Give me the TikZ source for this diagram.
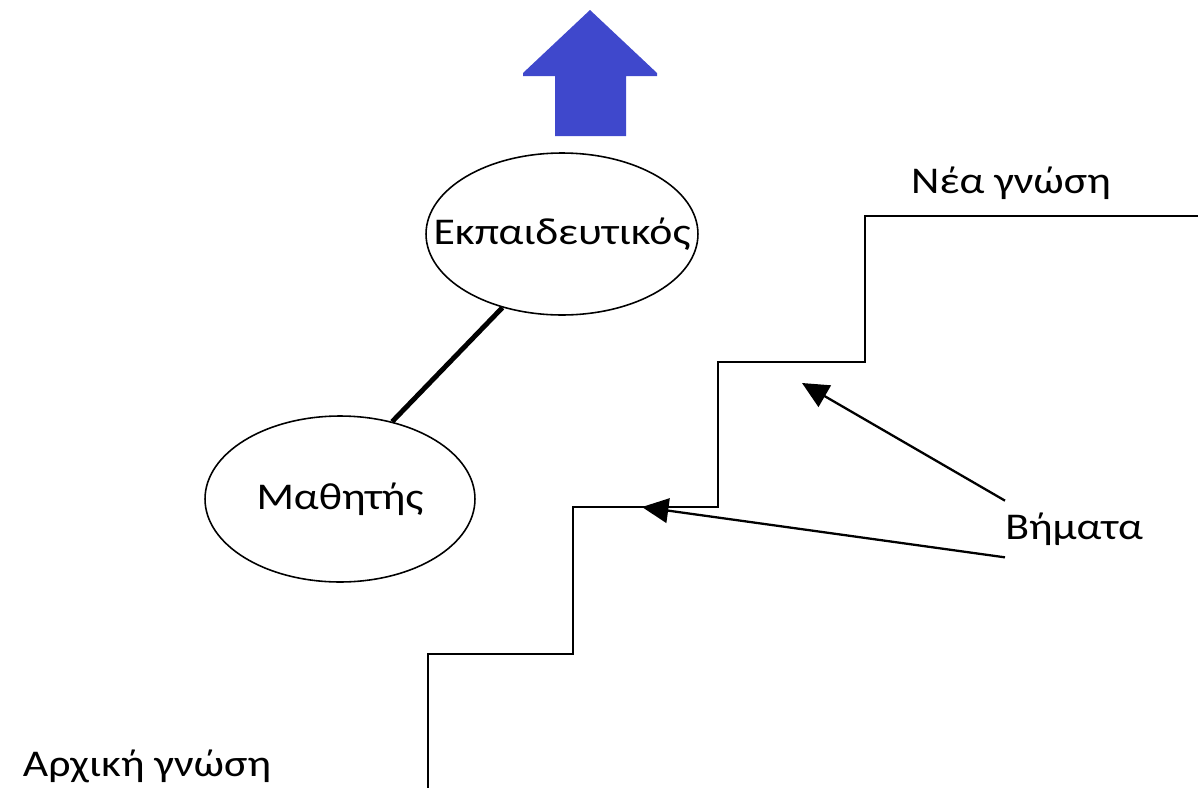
\documentclass[tikz,border=0pt]{standalone}
\usepackage{fontspec}
\setmainfont{Carlito}[FakeStretch=1.16]
\usetikzlibrary{shapes,arrows.meta,positioning}
\definecolor{paintblue}{RGB}{63,72,204}
\tikzstyle{role} = [ellipse, draw, line width=0.9pt, inner sep=0pt, font=\fontsize{21.5}{25}\selectfont]
\tikzstyle{caption} = [inner sep=0pt, font=\fontsize{21.5}{25}\selectfont]
\tikzstyle{stairs} = [line width=1.7pt, line join=miter]
\tikzstyle{pointer} = [-{Triangle[length=15pt, width=14pt]}, line width=1.3pt]

\begin{document}
\begin{tikzpicture}[x=0.02cm, y=-0.02cm]
\useasboundingbox (0,0) rectangle (1198,788);

% Blue arrow on top
\fill[paintblue] (590,10) -- (657,73) -- (657,76) -- (626,76) -- (626,136)
  -- (555,136) -- (555,76) -- (523,76) -- (523,73) -- cycle;

% Teacher and pupil
\node[role, minimum width=5.44cm, minimum height=3.24cm] (teacher) at (562,234) {\makebox[0pt]{Εκπαιδευτικός}};
\node[role, minimum width=5.4cm, minimum height=3.32cm] (pupil) at (340,499) {\makebox[0pt]{Μαθητής}};
\draw[line width=2.8pt] (teacher.231) -- (pupil.56);

% Staircase
\draw[stairs] (428,790) -- (428,654) -- (573,654) -- (573,507) -- (718,507)
  -- (718,362) -- (865,362) -- (865,216) -- (1200,216);

% Labels
\node[caption, anchor=base] (newknow) at (1011,193) {Νέα γνώση};
\node[caption, anchor=base] (oldknow) at (147,776) {Αρχική γνώση};
\node[caption, anchor=west, minimum height=1.12cm] (steps) at (1005,529) {Βήματα};

% Arrows to the steps
\coordinate (upperstep) at (802,383);
\coordinate (lowerstep) at (642,507);
\draw[pointer] (steps.north west) -- (upperstep);
\draw[pointer] (steps.south west) -- (lowerstep);

\end{tikzpicture}
\end{document}
